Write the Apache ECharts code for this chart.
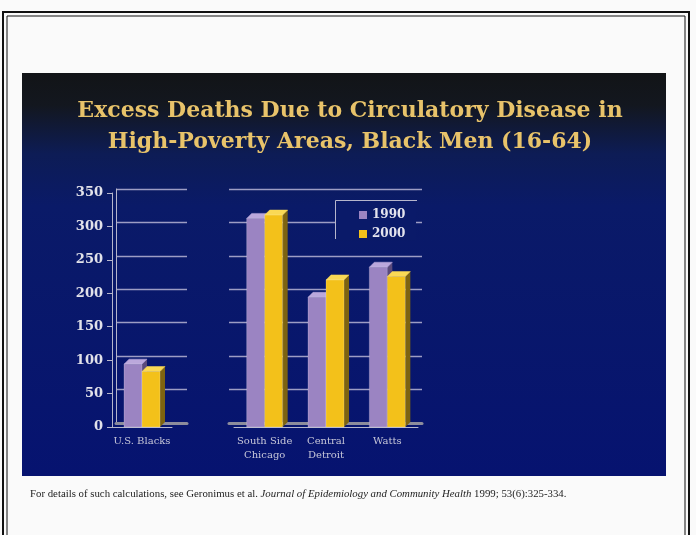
<!DOCTYPE html>
<html><head><meta charset="utf-8">
<script src="https://cdn.jsdelivr.net/npm/echarts@6/dist/echarts.min.js"></script>
<style>html,body{margin:0;padding:0;background:#fafafa}#c{width:696px;height:535px}</style>
</head><body><div id="c"></div>
<script>
const titleLines = ['Excess Deaths Due to Circulatory Disease in', 'High-Poverty Areas, Black Men (16-64)'];
const seriesNames = ['1990', '2000'];
const categoriesLeft = ['U.S. Blacks'];
const categoriesRight = ['South Side\nChicago', 'Central\nDetroit', 'Watts'];
const values1990Left = [94];
const values2000Left = [83];
const values1990Right = [312, 194, 239];
const values2000Right = [317, 220, 225];
const yMin = 0, yMax = 350, yInterval = 50;
const footerPlain = 'For details of such calculations, see Geronimus et al. ';
const footerItalic = 'Journal of Epidemiology and Community Health';
const footerEnd = ' 1999; 53(6):325-334.';

const palette = {
  '1990': {front: '#9b84c2', top: '#bba8dc', side: '#5a4a7c'},
  '2000': {front: '#f3c11a', top: '#fad955', side: '#7d6310'}
};
const DX = 5, DY = 5, BW = 18;

function bar3D(idx, col) {
  return function (params, api) {
    const ci = api.value(0), v = api.value(1);
    const t = api.coord([ci, v]);
    const b = api.coord([ci, 0]);
    const x0 = t[0] - BW + idx * BW;
    const yt = t[1], yb = b[1];
    return {
      type: 'group',
      children: [
        {type: 'polygon', shape: {points: [[x0 + BW, yt], [x0 + BW + DX, yt - DY], [x0 + BW + DX, yb - DY], [x0 + BW, yb]]}, style: {fill: col.side}},
        {type: 'polygon', shape: {points: [[x0, yt], [x0 + DX, yt - DY], [x0 + BW + DX, yt - DY], [x0 + BW, yt]]}, style: {fill: col.top, stroke: col.top, lineWidth: 0.5}},
        {type: 'rect', shape: {x: x0, y: yt, width: BW, height: yb - yt}, style: {fill: col.front, stroke: 'rgba(255,255,255,0.35)', lineWidth: 0.6}}
      ]
    };
  };
}

const axisCol = '#b6b6cc';
const gridLineCol = '#9d9dc4';
const labelFont = 'DejaVu Serif';

function mkSeries(name, idx, xi, cats, vals) {
  return {
    name: name, type: 'custom', xAxisIndex: xi, yAxisIndex: xi,
    itemStyle: {color: palette[name].front},
    renderItem: bar3D(idx, palette[name]),
    data: vals.map((v, i) => [i, v]),
    encode: {x: 0, y: 1}, z: 5
  };
}

const xLabel = {color: '#c6c6d8', fontFamily: labelFont, fontSize: 10, margin: 7, lineHeight: 14, interval: 0};

const chart = echarts.init(document.getElementById('c'), null, {renderer: 'canvas'});
const option = {
  backgroundColor: '#fafafa',
  animation: false,
  title: [
    {text: titleLines.join('\n'), left: 345, top: 91, textAlign: 'center',
      textStyle: {color: '#e8c36a', fontFamily: 'DejaVu Serif', fontWeight: 'bold', fontSize: 22, lineHeight: 31}},
    {text: '{a|' + footerPlain + '}{b|' + footerItalic + '}{a|' + footerEnd + '}', left: 25, top: 484,
      textStyle: {fontWeight: 'normal', rich: {
        a: {fontFamily: 'Liberation Serif', fontSize: 10.8, fontWeight: 'normal', color: '#222'},
        b: {fontFamily: 'Liberation Serif', fontSize: 10.8, fontWeight: 'normal', fontStyle: 'italic', color: '#222'}}}}
  ],
  graphic: [
    {type: 'rect', z: -100, shape: {x: 3, y: 12, width: 686, height: 530}, style: {fill: '#fafafa', stroke: '#111', lineWidth: 2}},
    {type: 'rect', z: -99, shape: {x: 7, y: 16, width: 678, height: 530}, style: {fill: 'none', stroke: '#111', lineWidth: 1}},
    {type: 'rect', z: -98, shape: {x: 22, y: 73, width: 644, height: 403},
      style: {fill: new echarts.graphic.LinearGradient(0, 0, 0, 1, [
        {offset: 0, color: '#121417'}, {offset: 0.08, color: '#13171f'},
        {offset: 0.2, color: '#0d1c55'}, {offset: 0.33, color: '#0a1a68'},
        {offset: 1, color: '#061370'}])}},
    {type: 'rect', z: 3, shape: {x: 335, y: 200.5, width: 81, height: 40}, style: {fill: '#0a1a69'}},
    {type: 'polyline', z: 3, shape: {points: [[335.5, 239], [335.5, 200.5], [417, 200.5]]}, style: {stroke: axisCol, lineWidth: 1}}
  ],
  legend: {
    data: seriesNames, orient: 'vertical', left: 354, top: 204, z: 10,
    itemWidth: 8, itemHeight: 8, itemGap: 7, icon: 'rect',
    textStyle: {color: '#e4e4ee', fontFamily: labelFont, fontWeight: 'bold', fontSize: 12}
  },
  grid: [
    {left: 112, top: 193, width: 60, height: 234},
    {left: 234, top: 193, width: 184, height: 234},
    {left: 116, top: 189, width: 71, height: 234},
    {left: 229, top: 189, width: 193, height: 234}
  ],
  xAxis: [
    {type: 'category', gridIndex: 0, data: categoriesLeft,
      axisLine: {lineStyle: {color: axisCol}}, axisTick: {length: 4, interval: 0, lineStyle: {color: axisCol}},
      axisLabel: xLabel},
    {type: 'category', gridIndex: 1, data: categoriesRight,
      axisLine: {lineStyle: {color: axisCol}}, axisTick: {length: 4, interval: 0, lineStyle: {color: axisCol}},
      axisLabel: xLabel},
    {type: 'category', gridIndex: 2, data: categoriesLeft, axisLabel: {show: false}, axisTick: {show: false},
      axisLine: {lineStyle: {color: '#8c8c9c', width: 3}}},
    {type: 'category', gridIndex: 3, data: categoriesRight, axisLabel: {show: false}, axisTick: {show: false},
      axisLine: {lineStyle: {color: '#8c8c9c', width: 3}}}
  ],
  yAxis: [
    {type: 'value', gridIndex: 0, min: yMin, max: yMax, interval: yInterval,
      axisLine: {show: true, lineStyle: {color: axisCol}}, axisTick: {show: true, length: 5, lineStyle: {color: axisCol}},
      splitLine: {show: false},
      axisLabel: {color: '#e2e2ea', fontFamily: labelFont, fontWeight: 'bold', fontSize: 13, margin: 9}},
    {type: 'value', gridIndex: 1, min: yMin, max: yMax, interval: yInterval,
      axisLine: {show: false}, axisTick: {show: false}, axisLabel: {show: false}, splitLine: {show: false}},
    {type: 'value', gridIndex: 2, min: yMin, max: yMax, interval: yInterval,
      axisLine: {show: true, lineStyle: {color: axisCol}}, axisTick: {show: false}, axisLabel: {show: false},
      splitLine: {lineStyle: {color: gridLineCol, width: 1.3}}},
    {type: 'value', gridIndex: 3, min: yMin, max: yMax, interval: yInterval,
      axisLine: {show: false}, axisTick: {show: false}, axisLabel: {show: false},
      splitLine: {lineStyle: {color: gridLineCol, width: 1.3}}}
  ],
  series: [
    mkSeries('1990', 0, 0, categoriesLeft, values1990Left),
    mkSeries('2000', 1, 0, categoriesLeft, values2000Left),
    mkSeries('1990', 0, 1, categoriesRight, values1990Right),
    mkSeries('2000', 1, 1, categoriesRight, values2000Right)
  ]
};
chart.setOption(option);
</script></body></html>
